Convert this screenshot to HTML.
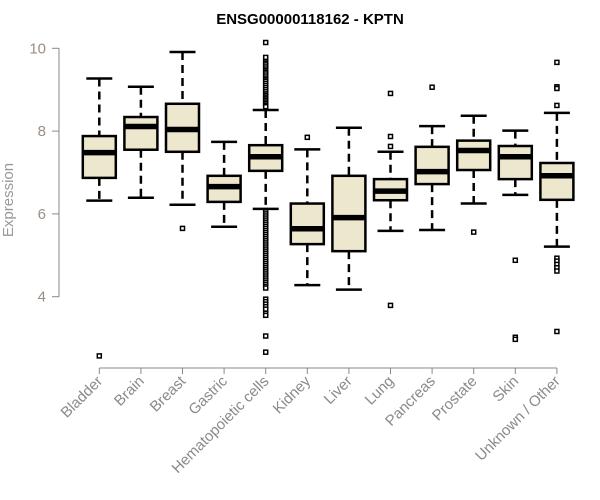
<!DOCTYPE html>
<html><head><meta charset="utf-8"><style>
html,body{margin:0;padding:0;background:#fff;}
svg{display:block;font-family:"Liberation Sans",Arial,sans-serif;}
</style></head><body>
<svg id="chart" width="600" height="500">
<text x="310" y="24" text-anchor="middle" font-size="15" font-weight="bold" fill="#000">ENSG00000118162 - KPTN</text>
<text transform="translate(13,200) rotate(-90)" text-anchor="middle" font-size="15" fill="#999">Expression</text>
<g id="plot"></g>
</svg>
<script>
const categories=["Bladder","Brain","Breast","Gastric","Hematopoietic cells","Kidney","Liver","Lung","Pancreas","Prostate","Skin","Unknown / Other"];
const lowWhisker=[6.32,6.39,6.22,5.69,6.12,4.28,4.17,5.59,5.61,6.25,6.46,5.21];
const q1=[6.87,7.55,7.50,6.29,7.04,5.27,5.10,6.33,6.72,7.06,6.84,6.34];
const medians=[7.48,8.11,8.04,6.66,7.38,5.64,5.91,6.55,7.02,7.53,7.38,6.92];
const q3=[7.88,8.34,8.66,6.92,7.66,6.25,6.92,6.84,7.62,7.77,7.64,7.23];
const highWhisker=[9.27,9.07,9.91,7.74,8.51,7.56,8.08,7.50,8.12,8.37,8.01,8.44];
const outliers=[[2.57],[],[5.65],[],
[10.14,9.78,9.68,9.64,9.6,9.55,9.5,9.46,9.42,9.38,9.33,9.28,9.24,9.2,9.15,9.1,9.05,9.0,8.95,8.9,8.86,8.82,8.78,8.74,8.7,8.66,8.62,8.59,
6.05,6.0,5.95,5.9,5.85,5.8,5.75,5.7,5.65,5.6,5.55,5.5,5.45,5.4,5.35,5.3,5.25,5.2,5.15,5.1,5.05,5.0,4.95,4.9,4.85,4.8,4.75,4.7,4.65,4.6,4.55,4.5,4.45,4.4,4.35,4.3,4.25,4.21,3.94,3.88,3.82,3.76,3.7,3.6,3.55,3.05,2.66],
[7.85],[],[8.91,7.87,7.63,3.79],[9.06],[5.56],[4.88,3.02,2.97],[9.66,9.07,9.03,8.62,4.93,4.86,4.78,4.70,4.62,3.16]];
const yTicks=[4,6,8,10];
const y=v=>296.7-(v-4)*41.4;
const x=i=>99.3+i*41.6;
const NS="http://www.w3.org/2000/svg";
const g=document.getElementById('plot');
function mk(t,a){const e=document.createElementNS(NS,t);for(const k in a)e.setAttribute(k,a[k]);g.appendChild(e);return e;}
let ax=mk('line',{x1:59,y1:y(4),x2:59,y2:y(10),stroke:'#888','stroke-width':1});


yTicks.forEach(t=>{
 const l=mk('line',{x1:52,y1:y(t),x2:59,y2:y(t),stroke:'#888'});
 
 
 const tx=mk('text',{x:46,y:y(t)+5,'text-anchor':'end','font-size':15,fill:'#9a8f86'});
 tx.textContent=t;
 
 
});
let xa=mk('line',{x1:x(0),y1:368,x2:x(categories.length-1),y2:368,stroke:'#888'});


categories.forEach((c,i)=>{
 const cx=x(i);
 const tk=mk('line',{x1:cx,y1:368,x2:cx,y2:374,stroke:'#888'});
 
 
 const tx=mk('text',{x:cx+4,y:382,'text-anchor':'end','font-size':15,fill:'#8a8a8a',transform:`rotate(-45 ${cx+4} 382)`});
 tx.textContent=c;
 
 
 const w1=mk('line',{x1:cx,y1:y(highWhisker[i]),x2:cx,y2:y(q3[i]),stroke:'#000','stroke-width':2.5,'stroke-dasharray':'8,5'});
 
 
 const w2=mk('line',{x1:cx,y1:y(q1[i]),x2:cx,y2:y(lowWhisker[i]),stroke:'#000','stroke-width':2.5,'stroke-dasharray':'8,5'});
 
 
 [highWhisker[i],lowWhisker[i]].forEach(v=>{
  const cp=mk('line',{x1:cx-13,y1:y(v),x2:cx+13,y2:y(v),stroke:'#000','stroke-width':2.5});
  
  
 });
 const b=mk('rect',{x:cx-16.5,y:y(q3[i]),width:33,height:y(q1[i])-y(q3[i]),fill:'#ede7cd',stroke:'#000','stroke-width':2.5});
 
 
 const m=mk('line',{x1:cx-16.5,y1:y(medians[i]),x2:cx+16.5,y2:y(medians[i]),stroke:'#000','stroke-width':5.5});
 
 
 outliers[i].forEach(v=>{
  const o=mk('rect',{x:cx-2,y:y(v)-2,width:4,height:4,fill:'#fff',stroke:'#000','stroke-width':1.5});
  
  
 });
});
</script>
</body></html>
